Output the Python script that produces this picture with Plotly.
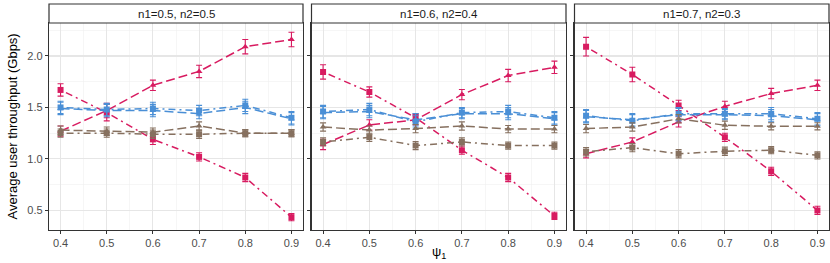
import plotly.graph_objects as go

W, H = 830, 263

psi = [0.4, 0.5, 0.6, 0.7, 0.8, 0.9]
panel_titles = ["n1=0.5, n2=0.5", "n1=0.6, n2=0.4", "n1=0.7, n2=0.3"]
y_ticks = [0.5, 1.0, 1.5, 2.0]
y_tick_labels = ["0.5", "1.0", "1.5", "2.0"]

# series values per panel
red_tri = [[1.27, 1.47, 1.715, 1.85, 2.09, 2.16],
           [1.14, 1.33, 1.38, 1.625, 1.81, 1.89],
           [1.05, 1.165, 1.36, 1.51, 1.635, 1.715]]
red_sq = [[1.67, 1.45, 1.19, 1.02, 0.82, 0.435],
          [1.845, 1.65, 1.40, 1.085, 0.82, 0.447],
          [2.09, 1.82, 1.52, 1.21, 0.88, 0.50]]
blue_tri = [[1.49, 1.47, 1.47, 1.44, 1.50, 1.39],
            [1.45, 1.46, 1.38, 1.44, 1.44, 1.39],
            [1.41, 1.38, 1.43, 1.43, 1.42, 1.38]]
blue_sq = [[1.50, 1.48, 1.49, 1.47, 1.52, 1.40],
           [1.46, 1.48, 1.36, 1.45, 1.46, 1.40],
           [1.42, 1.37, 1.44, 1.44, 1.44, 1.39]]
brown_tri = [[1.28, 1.27, 1.26, 1.32, 1.25, 1.25],
             [1.31, 1.28, 1.295, 1.32, 1.29, 1.29],
             [1.295, 1.31, 1.39, 1.327, 1.317, 1.317]]
brown_sq = [[1.25, 1.25, 1.24, 1.24, 1.25, 1.25],
            [1.165, 1.21, 1.13, 1.165, 1.13, 1.13],
            [1.07, 1.11, 1.05, 1.075, 1.085, 1.035]]

# error half-widths
red_tri_err = [[0.05, 0.07, 0.05, 0.06, 0.07, 0.07],
               [0.05, 0.05, 0.05, 0.05, 0.06, 0.06],
               [0.04, 0.04, 0.05, 0.05, 0.05, 0.05]]
red_sq_err = [[0.06, 0.08, 0.05, 0.04, 0.04, 0.035],
              [0.07, 0.05, 0.04, 0.04, 0.04, 0.035],
              [0.09, 0.07, 0.05, 0.04, 0.04, 0.04]]
blue_err = [0.06, 0.06, 0.06, 0.05, 0.06, 0.06]
brown_err = [0.04, 0.04, 0.04, 0.04, 0.035, 0.035]

RED, BLUE, BROWN = "#D81B60", "#4A8FD6", "#86705F"
DASH = "9px,4px"
DOTDASH = "2px,4px,7px,4px"

# layout in pixels
panels_px = [(49, 303), (311.5, 566), (574.5, 829)]
plot_top, plot_bot, strip_top = 23, 230, 4

fig = go.Figure()

series = [
    (red_tri, red_tri_err, RED, "triangle-up", DASH),
    (red_sq, red_sq_err, RED, "square", DOTDASH),
    (blue_tri, None, BLUE, "triangle-up", DASH),
    (blue_sq, None, BLUE, "square", DOTDASH),
    (brown_tri, None, BROWN, "triangle-up", DASH),
    (brown_sq, None, BROWN, "square", DOTDASH),
]

for p in range(3):
    xa = "x" if p == 0 else f"x{p+1}"
    ya = "y" if p == 0 else f"y{p+1}"
    for vals, errs, col, sym, dash in series:
        if errs is None:
            e = blue_err if col == BLUE else brown_err
        else:
            e = errs[p]
        fig.add_trace(go.Scatter(
            x=psi, y=vals[p], xaxis=xa, yaxis=ya, mode="lines+markers",
            line=dict(color=col, width=1.5, dash=dash),
            marker=dict(color=col, symbol=sym, size=6),
            error_y=dict(type="data", array=e, color=col, thickness=1.1, width=3),
            showlegend=False, hoverinfo="skip"))

axis_common = dict(
    showline=True, linecolor="#333333", linewidth=1.2, mirror=True,
    showgrid=True, gridcolor="#E6E6E6", gridwidth=1.1,
    ticks="outside", ticklen=3, tickcolor="#333333", tickwidth=1,
    tickfont=dict(family="Liberation Sans, Arial", size=11, color="#4D4D4D"),
    zeroline=False,
)

layout = dict(
    width=W, height=H, margin=dict(l=0, r=0, t=0, b=0),
    paper_bgcolor="white", plot_bgcolor="white",
    font=dict(family="Liberation Sans, Arial", size=11, color="#1A1A1A"),
)
shapes = []
annotations = []
for p, (x0, x1) in enumerate(panels_px):
    sfx = "" if p == 0 else str(p + 1)
    dom_x = [x0 / W, x1 / W]
    dom_y = [(H - plot_bot) / H, (H - plot_top) / H]
    layout["xaxis" + sfx] = dict(
        axis_common, domain=dom_x, range=[0.375, 0.925],
        tickvals=psi, ticktext=[f"{v:.1f}" for v in psi],
        minor=dict(dtick=0.05, tick0=0.35, showgrid=True, gridcolor="#F0F0F0", gridwidth=0.6, ticks=""),
        anchor="y" + sfx)
    layout["yaxis" + sfx] = dict(
        axis_common, domain=dom_y, range=[0.31, 2.32],
        tickvals=y_ticks, ticktext=y_tick_labels, showticklabels=(p == 0),
        minor=dict(dtick=0.25, tick0=0.25, showgrid=True, gridcolor="#F0F0F0", gridwidth=0.6, ticks=""),
        anchor="x" + sfx)
    shapes.append(dict(type="rect", xref="paper", yref="paper",
                       x0=x0 / W, x1=x1 / W, y0=(H - plot_top) / H, y1=(H - strip_top) / H,
                       line=dict(color="#333333", width=1.2), fillcolor="white", layer="above"))
    annotations.append(dict(xref="paper", yref="paper", x=(x0 + x1) / 2 / W,
                            y=(H - (plot_top + strip_top) / 2) / H, text=panel_titles[p],
                            showarrow=False, xanchor="center", yanchor="middle",
                            font=dict(size=11.5, color="#1A1A1A")))

annotations.append(dict(xref="paper", yref="paper", x=12 / W, y=(H - (plot_top + plot_bot) / 2) / H,
                        text="Average user throughput (Gbps)", textangle=-90, showarrow=False,
                        xanchor="center", yanchor="middle", font=dict(size=13, color="#000000")))
annotations.append(dict(xref="paper", yref="paper", x=(panels_px[1][0] + panels_px[1][1]) / 2 / W,
                        y=(H - 252) / H, text="ψ<sub>1</sub>", showarrow=False,
                        xanchor="center", yanchor="middle", font=dict(size=13, color="#000000")))

layout["shapes"] = shapes
layout["annotations"] = annotations
fig.update_layout(**layout)
fig.write_html("out.html", config={"displayModeBar": False, "staticPlot": True},
               post_script="document.body.style.margin='0';document.body.style.overflow='hidden';")
